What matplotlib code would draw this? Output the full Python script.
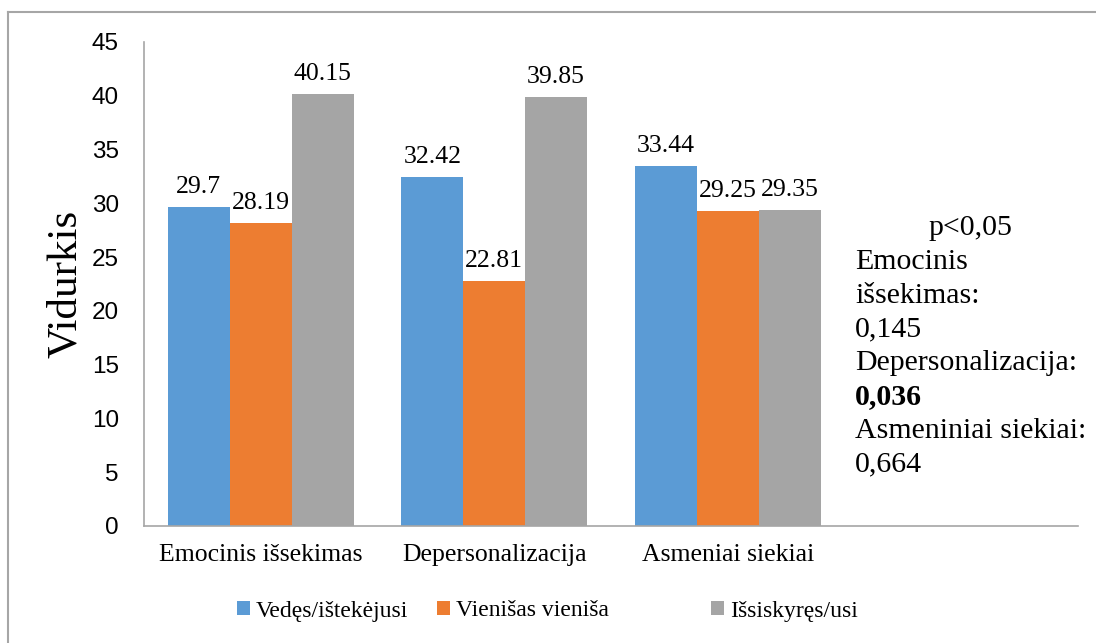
"""
Vidurkiai pagal šeiminę padėtį — grouped bar chart.
"""

import matplotlib
matplotlib.use("Agg")
import matplotlib.pyplot as plt
from matplotlib.lines import Line2D
import numpy as np

# Data
categories = ["Emocinis išsekimas", "Depersonalizacija", "Asmeniai siekiai"]
series_names = ["Vedęs/ištekėjusi", "Vienišas vieniša", "Išsiskyręs/usi"]
married = [29.7, 32.42, 33.44]
single = [28.19, 22.81, 29.25]
divorced = [40.15, 39.85, 29.35]
yticks = [0, 5, 10, 15, 20, 25, 30, 35, 40, 45]
note_lines = ["Emocinis", "išsekimas:", "0,145", "Depersonalizacija:",
              "0,036", "Asmeniniai siekiai:", "0,664"]

BLUE = "#5B9BD5"
ORANGE = "#ED7D31"
GRAY = "#A5A5A5"
AXIS_GRAY = "#A6A6A6"
SERIF = "Liberation Serif"
SANS = "Liberation Sans"

W, H = 1096, 643
fig = plt.figure(figsize=(W / 100, H / 100), dpi=100)
fig.patch.set_facecolor("white")
ax = fig.add_axes([144 / W, 1 - 526 / H, (1078 - 144) / W, (526 - 42) / H])

# Bars
x = np.arange(len(categories))
bw = 0.265
colors = [BLUE, ORANGE, GRAY]
for i, vals in enumerate([married, single, divorced]):
    bars = ax.bar(x + (i - 1) * bw, vals, bw, color=colors[i],
                  label=series_names[i], zorder=2)
    for b, v in zip(bars, vals):
        ax.annotate(f"{v:g}", (b.get_x() + b.get_width() / 2, v),
                    xytext=(0, 6.5), textcoords="offset points",
                    ha="center", va="bottom", fontsize=18.5,
                    family=SERIF, color="black")

ax.set_xlim(-0.5, 3.5)
ax.set_ylim(0, 45)
ax.set_yticks(yticks)
ax.set_xticks(x)
ax.set_xticklabels(categories, family=SERIF, fontsize=18.5)
for lbl in ax.get_yticklabels():
    lbl.set_family(SANS)
    lbl.set_fontsize(17.5)
ax.tick_params(axis="both", length=0)
ax.tick_params(axis="y", pad=18)
ax.tick_params(axis="x", pad=13)

for side in ["top", "right"]:
    ax.spines[side].set_visible(False)
for side in ["left", "bottom"]:
    ax.spines[side].set_color(AXIS_GRAY)
    ax.spines[side].set_linewidth(1.2)

ax.set_ylabel("Vidurkis", family=SERIF, fontsize=31, labelpad=5)

# Significance note on the right
fig.text(970 / W, 1 - 228 / H, "p<0,05", family=SERIF, fontsize=21.5,
         ha="center", va="center")
for k, line in enumerate(note_lines):
    fig.text(855 / W, 1 - (262 + k * 33.7) / H, line, family=SERIF,
             fontsize=21.5, ha="left", va="center",
             fontweight="bold" if line == "0,036" else "normal")

# Legend — one entry per anchor to match the uneven spacing
handles, labels = ax.get_legend_handles_labels()
anchors = [237, 437, 711]
for hnd, lab, xa in zip(handles, labels, anchors):
    fig.legend([hnd], [lab], loc="center left",
               bbox_to_anchor=(xa / W, 1 - 611 / H),
               frameon=False, borderpad=0, borderaxespad=0,
               handlelength=0.55, handleheight=0.55,
               handletextpad=0.25,
               prop={"family": SERIF, "size": 17})

# Outer chart border (only left and top visible in the crop)
fig.add_artist(Line2D([8 / W, 8 / W], [0, 1 - 12 / H], color=AXIS_GRAY,
                      linewidth=1.5, transform=fig.transFigure))
fig.add_artist(Line2D([8 / W, 1], [1 - 12 / H, 1 - 12 / H], color=AXIS_GRAY,
                      linewidth=1.5, transform=fig.transFigure))

fig.savefig("out.png", dpi=100, facecolor="white")
